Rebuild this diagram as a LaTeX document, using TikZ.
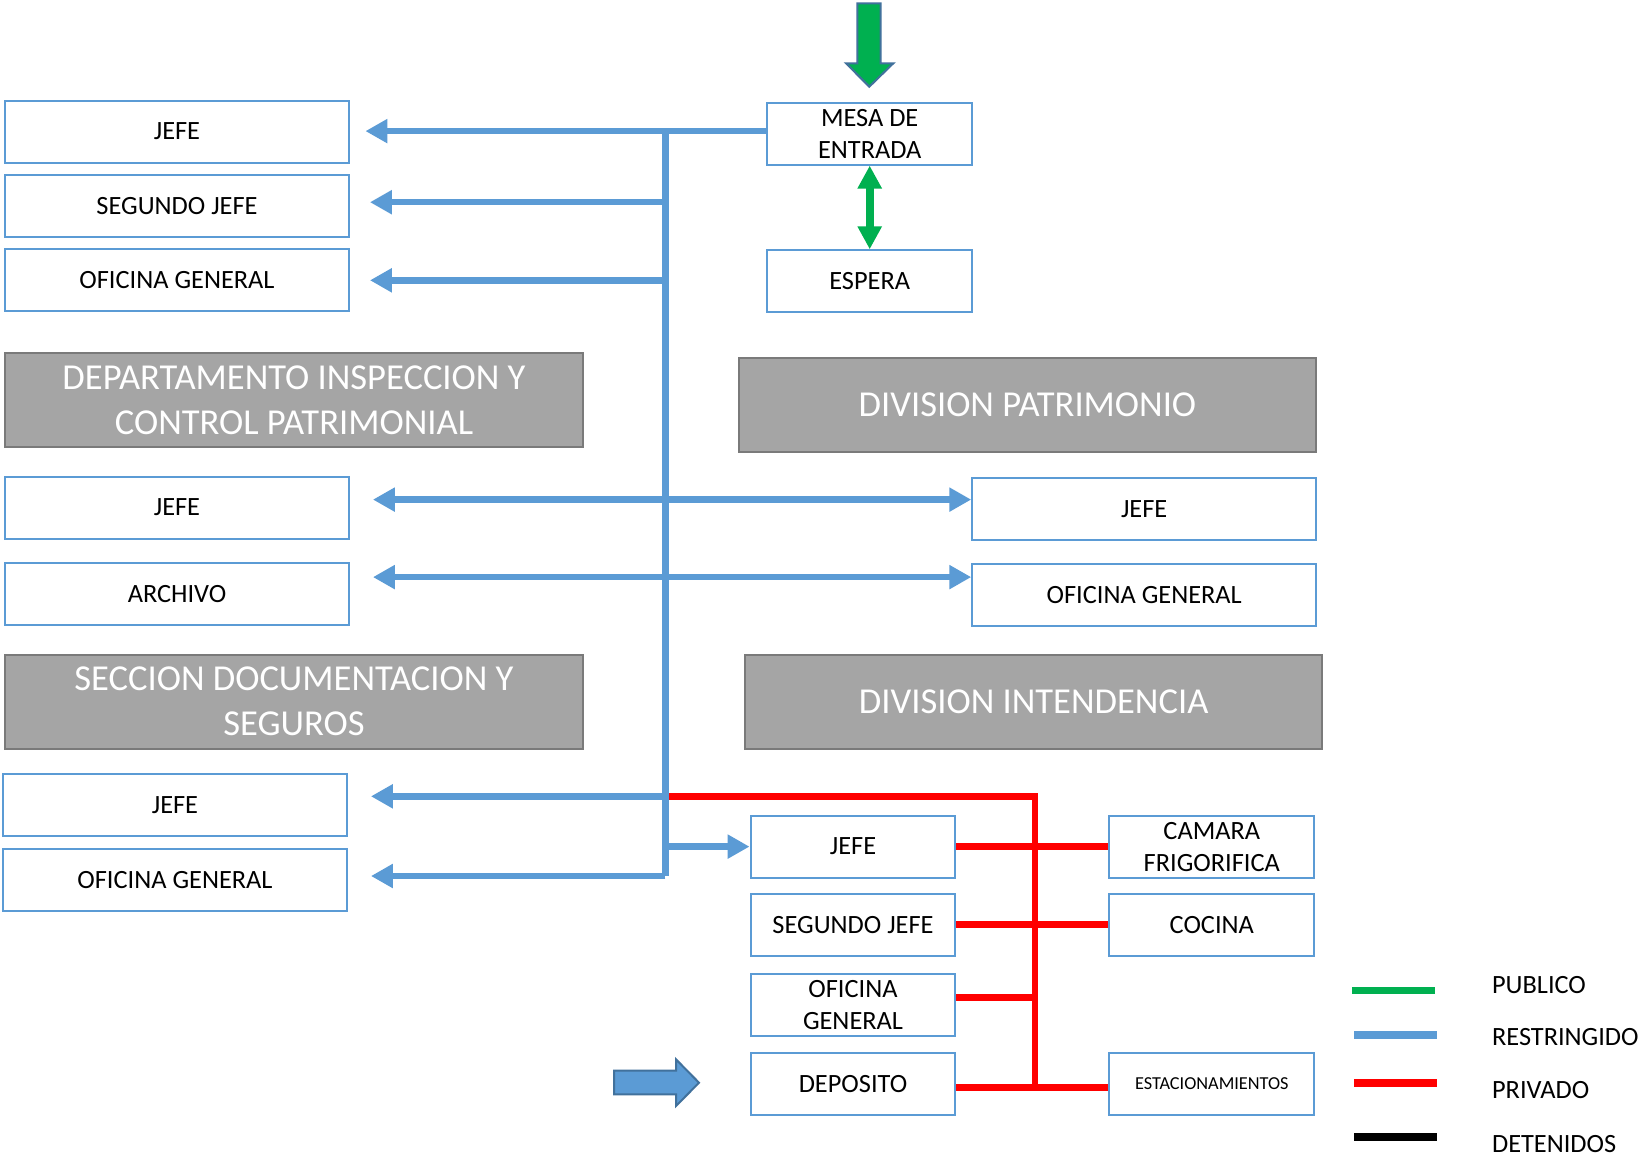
\documentclass[tikz,border=0pt]{standalone}
\usepackage{fontspec}
\setmainfont{Carlito}
\usetikzlibrary{arrows.meta}
\definecolor{azul}{HTML}{5B9BD5}
\definecolor{azulosc}{HTML}{41719C}
\definecolor{gris}{HTML}{A5A5A5}
\definecolor{grisosc}{HTML}{7A7A7A}
\definecolor{verde}{HTML}{00B050}
\definecolor{rojo}{HTML}{FF0000}

\begin{document}
\begin{tikzpicture}[x=0.02cm,y=-0.02cm,
    oficina/.style={draw=azul,fill=white,line width=0.04cm,minimum width=6.88cm,minimum height=1.24cm,inner sep=0pt,align=center,font=\fontsize{15}{18.2}\selectfont},
    chica/.style={oficina,minimum width=4.1cm},
    titulo/.style={draw=grisosc,fill=gris,line width=0.04cm,minimum width=11.55cm,minimum height=1.88cm,inner sep=0pt,align=center,text=white,font=\fontsize{20.8}{25.5}\selectfont},
    restr/.style={draw=azul,line width=0.13cm,>={Triangle[length=0.44cm,width=0.46cm]}},
    priv/.style={draw=rojo,line width=0.13cm},
    pub/.style={draw=verde,line width=0.16cm,>={Triangle[length=0.46cm,width=0.46cm]}},
    muestra/.style={line width=0.15cm},
    leyenda/.style={anchor=west,inner sep=0pt,font=\fontsize{15}{18.2}\selectfont}]
        \useasboundingbox[fill=white] (0,0) rectangle (1643,1157);

        \node[oficina] (jefeA) at (177,131.5) {JEFE};
        \node[oficina] (segA) at (177,206) {SEGUNDO JEFE};
        \node[oficina] (ofiA) at (177,280.3) {OFICINA GENERAL};
        \node[titulo] (depto) at (294,400.2) {DEPARTAMENTO INSPECCION Y\\CONTROL PATRIMONIAL};
        \node[oficina] (jefeB) at (177,507.6) {JEFE};
        \node[oficina] (archivo) at (177,593.6) {ARCHIVO};
        \node[titulo] (seccion) at (294,701.5) {SECCION DOCUMENTACION Y\\SEGUROS};
        \node[oficina] (jefeC) at (175,805.2) {JEFE};
        \node[oficina] (ofiC) at (175,879.6) {OFICINA GENERAL};

        \node[chica] (mesa) at (869.7,133.6) {MESA DE\\ENTRADA};
        \node[chica] (espera) at (869.7,281.3) {ESPERA};
        \node[titulo] (patrimonio) at (1027.4,404.5) {DIVISION PATRIMONIO};
        \node[oficina] (jefeP) at (1144.2,508.7) {JEFE};
        \node[oficina] (ofiP) at (1144.2,594.6) {OFICINA GENERAL};
        \node[titulo] (intendencia) at (1033.7,701.5) {DIVISION INTENDENCIA};

        \node[chica] (jefeI) at (853,846.6) {JEFE};
        \node[chica] (segI) at (853,924.7) {SEGUNDO JEFE};
        \node[chica] (ofiI) at (853,1004.8) {OFICINA\\GENERAL};
        \node[chica] (deposito) at (853,1084) {DEPOSITO};
        \node[chica] (camara) at (1211.8,846.6) {CAMARA\\FRIGORIFICA};
        \node[chica] (cocina) at (1211.8,924.7) {COCINA};
        \node[chica,font=\fontsize{10.4}{12}\selectfont] (estac) at (1211.8,1084) {ESTACIONAMIENTOS};

        \coordinate (tbot) at (665.4,876);
        \coordinate (bus) at (1035,796.3);

        % privado
        \draw[priv] (bus -| tbot) -- (bus) -- ([yshift=-0.07cm]bus |- deposito.east);
        \draw[priv] (jefeI.east) -- (camara.west);
        \draw[priv] (segI.east) -- (cocina.west);
        \draw[priv] ([yshift=0.146cm]ofiI.east) -- ([yshift=0.146cm]ofiI.east -| bus);
        \draw[priv] ([yshift=-0.07cm]deposito.east) -- ([yshift=-0.07cm]estac.west);

        % restringido
        \draw[restr] ([yshift=0.05cm]mesa.west -| tbot) -- (tbot);
        \draw[restr,->,shorten >=0.31cm] ([yshift=0.05cm]mesa.west) -- ([yshift=0.05cm]mesa.west -| jefeA.east);
        \draw[restr,->,shorten >=0.4cm] ([yshift=0.076cm]segA.east -| tbot) -- ([yshift=0.076cm]segA.east);
        \draw[restr,->,shorten >=0.4cm] (ofiA.east -| tbot) -- (ofiA.east);
        \draw[restr,<->,shorten <=0.46cm] ([yshift=0.16cm]jefeB.east) -- ([yshift=0.16cm]jefeB.east -| jefeP.west);
        \draw[restr,<->,shorten <=0.46cm] ([yshift=0.33cm]archivo.east) -- ([yshift=0.33cm]archivo.east -| ofiP.west);
        \draw[restr,->,shorten >=0.46cm] (bus -| tbot) -- (bus -| jefeC.east);
        \draw[restr,->,shorten >=0.46cm] (tbot) -- (tbot -| ofiC.east);
        \draw[restr,->] (jefeI.west -| tbot) -- (jefeI.west);

        % publico
        \draw[pub,<->] (mesa.south) -- (espera.north);
        \filldraw[fill=verde,draw=azulosc,line width=0.04cm] (857.3,3.3) -- (880.7,3.3) -- (880.7,63.3) -- (893.3,63.3) -- (869.3,86.7) -- (846,63.3) -- (857.3,63.3) -- cycle;
        \filldraw[fill=azul,draw=azulosc,line width=0.04cm] (614,1070.7) -- (676,1070.7) -- (676,1059.3) -- (699,1082.7) -- (676,1106) -- (676,1094.3) -- (614,1094.3) -- cycle;

        % leyenda
        \draw[muestra,verde] (1352,990.5) -- (1434.7,990.5);
        \draw[muestra,azul] (1354.3,1035.2) -- (1437,1035.2);
        \draw[muestra,rojo] (1354.3,1083.2) -- (1437,1083.2);
        \draw[muestra,black] (1354.3,1136.8) -- (1437,1136.8);
        \node[leyenda] (lpub) at (1491.7,985) {PUBLICO};
        \node[leyenda] (lres) at (1491.7,1037) {RESTRINGIDO};
        \node[leyenda] (lpri) at (1491.7,1090.3) {PRIVADO};
        \node[leyenda] (ldet) at (1491.7,1144) {DETENIDOS};
\end{tikzpicture}
\end{document}
